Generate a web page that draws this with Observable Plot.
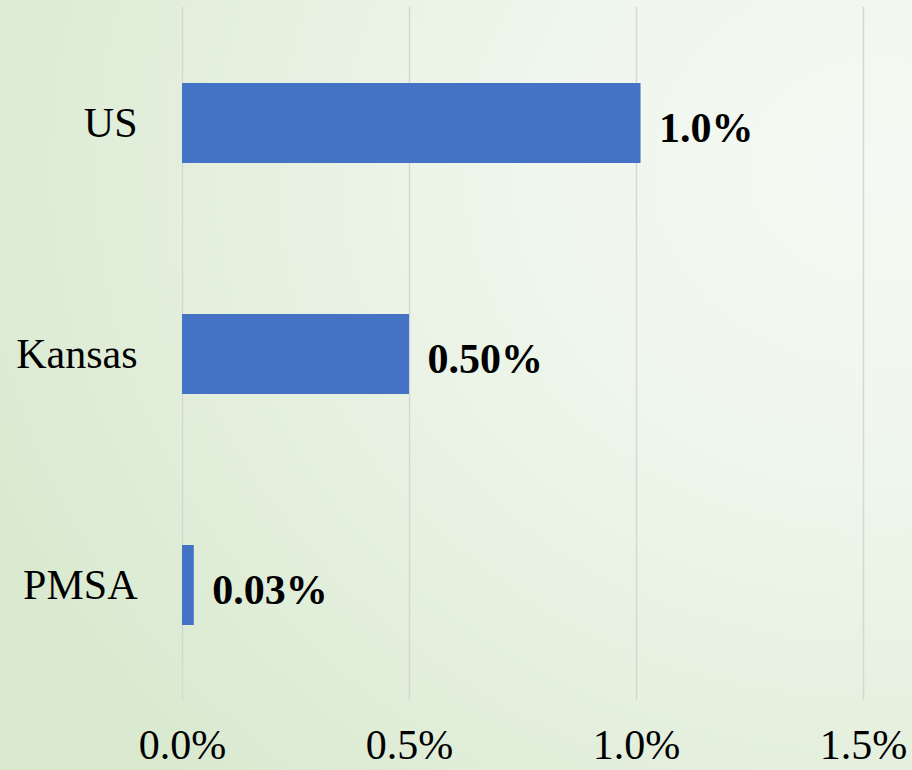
<!DOCTYPE html>
<html>
<head>
<meta charset="utf-8">
<script src="https://cdn.jsdelivr.net/npm/d3@7"></script>
<script src="https://cdn.jsdelivr.net/npm/@observablehq/plot@0.6"></script>
<style>
  html, body { margin: 0; padding: 0; }
  #chart {
    width: 912px; height: 770px;
    background: radial-gradient(ellipse 110% 115% at 96% 22%, #f5f9f3 0%, #eff6ec 35%, #e3efdc 70%, #d8e9ce 100%);
  }
  #chart svg { display: block; }
</style>
</head>
<body>
<div id="chart"></div>
<script>
const categories = ["US", "Kansas", "PMSA"];
const values = [1.01, 0.50, 0.026];
const valueLabels = ["1.0%", "0.50%", "0.03%"];
const xTicks = [0, 0.5, 1.0, 1.5];
const xTickLabels = ["0.0%", "0.5%", "1.0%", "1.5%"];

const data = categories.map((c, i) => ({category: c, value: values[i], label: valueLabels[i]}));
const fmt = (d) => xTickLabels[xTicks.indexOf(d)];

const plot = Plot.plot({
  width: 912,
  height: 770,
  marginLeft: 182,
  marginRight: 49,
  marginTop: 7,
  marginBottom: 70,
  style: {background: "transparent", fontFamily: "'Liberation Serif', 'Times New Roman', serif", fontSize: "42px", color: "#000"},
  x: {domain: [0, 1.5], ticks: xTicks, tickFormat: fmt, label: null},
  y: {domain: categories, paddingInner: 0.654, paddingOuter: 0.327, label: null},
  marks: [
    Plot.gridX(xTicks, {stroke: "#d6d6d6", strokeOpacity: 1, strokeWidth: 1.5}),
    Plot.barX(data, {x: "value", y: "category", fill: "#4472c4"}),
    Plot.text(data, {x: "value", y: "category", text: "label", textAnchor: "start", dx: 18, dy: 5, fontWeight: "bold", fontSize: 42, fill: "#000"}),
    Plot.axisX({ticks: xTicks, tickFormat: fmt, tickSize: 0, tickPadding: 29, fontSize: 42, label: null}),
    Plot.axisY({tickSize: 0, tickPadding: 45, fontSize: 42, label: null})
  ]
});
document.getElementById("chart").appendChild(plot);
</script>
</body>
</html>
